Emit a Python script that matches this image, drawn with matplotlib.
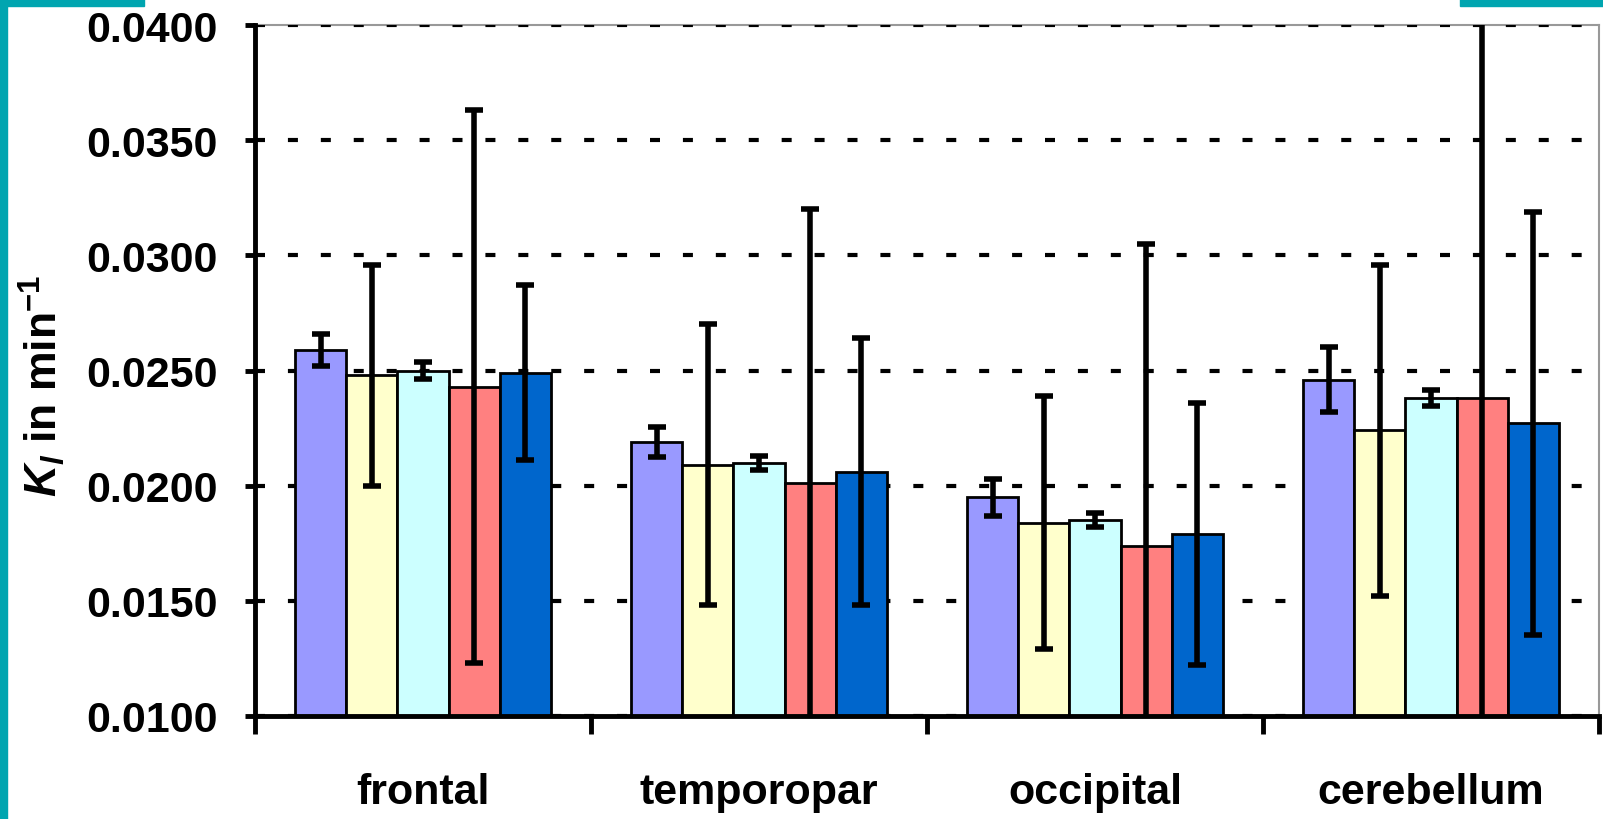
import numpy as np
import matplotlib
matplotlib.use('Agg')
import matplotlib.pyplot as plt
from matplotlib.patches import Rectangle

plt.rcParams['font.family'] = ['Liberation Sans', 'DejaVu Sans']
plt.rcParams['mathtext.fontset'] = 'custom'
plt.rcParams['mathtext.rm'] = 'Liberation Sans:bold'
plt.rcParams['mathtext.it'] = 'Liberation Sans:italic:bold'
plt.rcParams['mathtext.bf'] = 'Liberation Sans:bold'

# -------------------------------- data
regions = ['frontal', 'temporopar', 'occipital', 'cerebellum']
colors = ['#9999FF', '#FFFFCC', '#CCFFFF', '#FF8080', '#0066CC']

# Ki means (min^-1), one list per method, ordered as regions
ki_1 = [0.0259, 0.0219, 0.0195, 0.0246]
ki_2 = [0.0248, 0.0209, 0.0184, 0.0224]
ki_3 = [0.0250, 0.0210, 0.0185, 0.0238]
ki_4 = [0.0243, 0.0201, 0.0174, 0.0238]
ki_5 = [0.0249, 0.0206, 0.0179, 0.0227]

err_1 = [0.0007, 0.00065, 0.0008, 0.0014]
err_2 = [0.0048, 0.0061, 0.0055, 0.0072]
err_3 = [0.00035, 0.0003, 0.0003, 0.00036]
err_4 = [0.0120, 0.0119, 0.0131, 0.0175]
err_5 = [0.0038, 0.0058, 0.0057, 0.0092]

means = [ki_1, ki_2, ki_3, ki_4, ki_5]
errs = [err_1, err_2, err_3, err_4, err_5]

yticks = [0.0100, 0.0150, 0.0200, 0.0250, 0.0300, 0.0350, 0.0400]

# -------------------------------- plot
fig = plt.figure(figsize=(16.03, 8.20), dpi=100)
ax = fig.add_axes([255/1603, 103/820, 1344/1603, 691/820])

x = np.arange(len(regions)) + 0.5
w = 0.152
for j in range(5):
    xs = x + (j - 2) * w
    ax.bar(xs, means[j], width=w, bottom=0, color=colors[j],
           edgecolor='black', linewidth=2, zorder=3)
    ax.errorbar(xs, means[j], yerr=errs[j], fmt='none', ecolor='black',
                elinewidth=4, capsize=6.5, capthick=4, zorder=4)

ax.set_xlim(0, 4)
ax.set_ylim(0.0100, 0.0400)
ax.set_yticks(yticks)
ax.set_yticklabels(['%.4f' % t for t in yticks])
ax.yaxis.grid(True, color='black', linewidth=3, linestyle=(0, (2.4, 5.5)), zorder=1)
ax.set_axisbelow(True)

# category boundaries as major ticks, names on minor ticks
ax.set_xticks(np.arange(5))
ax.set_xticklabels([])
ax.set_xticks(x, minor=True)
ax.set_xticklabels(regions, minor=True, fontsize=31, fontweight='bold')
ax.tick_params(axis='x', which='major', direction='out', length=13, width=3.5)
ax.tick_params(axis='x', which='minor', length=0, pad=40)
ax.tick_params(axis='y', direction='out', length=7, width=3.5, pad=20,
               labelsize=31)
for lab in ax.get_yticklabels():
    lab.set_fontweight('bold')

for s in ['left', 'bottom']:
    ax.spines[s].set_linewidth(3.5)
    ax.spines[s].set_color('black')
    ax.spines[s].set_zorder(5)
for s in ['top', 'right']:
    ax.spines[s].set_linewidth(1.5)
    ax.spines[s].set_color('#999999')
    ax.spines[s].set_zorder(0)

ax.set_ylabel(r'$K_l$ in min$^{-1}$', fontsize=32, fontweight='bold')
ax.yaxis.set_label_coords(-0.14, 0.48)

# teal frame pieces at the figure edge
teal = '#00A5B0'
fig.patches.append(Rectangle((0, 0), 7/1603, 813/820, transform=fig.transFigure,
                             color=teal, zorder=10))
fig.patches.append(Rectangle((0, 813/820), 144/1603, 7/820, transform=fig.transFigure,
                             color=teal, zorder=10))
fig.patches.append(Rectangle((1460/1603, 813/820), 143/1603, 7/820,
                             transform=fig.transFigure, color=teal, zorder=10))

fig.savefig('out.png', dpi=100)
